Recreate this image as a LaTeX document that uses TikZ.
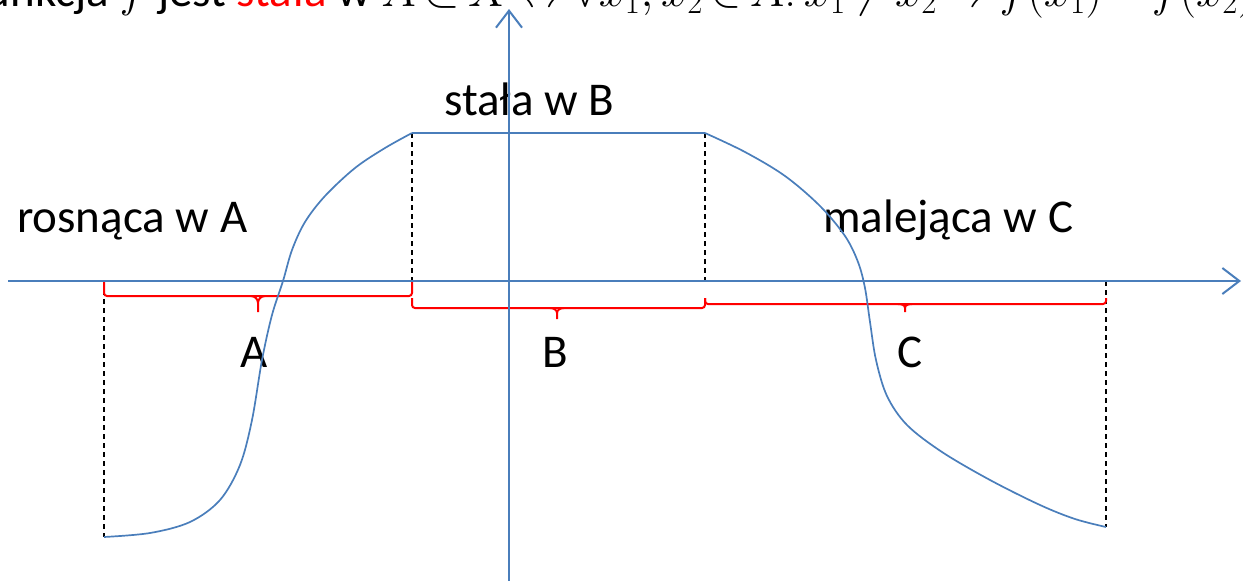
\RequirePackage{fix-cm}
\documentclass[tikz,border=0pt]{standalone}
\usepackage{fontspec}
\setmainfont{Carlito}
\usetikzlibrary{arrows.meta}
\definecolor{axisblue}{HTML}{4A7EBB}
\definecolor{bracered}{HTML}{FF0000}
\begin{document}
\begin{tikzpicture}[x=1pt,y=-1pt,
  axisline/.style={draw=axisblue,line width=2.4pt,-{Straight Barb[length=17pt,width=26pt,line width=2pt]}},
  curveline/.style={draw=axisblue,line width=1.7pt},
  guide/.style={draw=black,line width=1.4pt,dash pattern=on 5pt off 4pt},
  bracepath/.style={draw=bracered,line width=2pt,rounded corners=3pt},
  bracetick/.style={draw=bracered,line width=2pt},
  lbl/.style={font=\fontsize{47}{56}\selectfont,inner sep=0pt,text=black}]
\useasboundingbox (0,0) rectangle (1243,581);
\clip (0,0) rectangle (1243,581);
% key points
\coordinate (xs) at (8,281);
\coordinate (xe) at (1241,281);
\coordinate (ys) at (509,581);
\coordinate (ye) at (509,9);
\coordinate (p0) at (104,537);
\coordinate (p1) at (412,133);
\coordinate (p2) at (705,133);
\coordinate (p3) at (1106,527);
\coordinate (a0) at (104,281);
\coordinate (a1) at (412,281);
\coordinate (a2) at (705,281);
\coordinate (a3) at (1106,281);
% title (cut by the frame)
\node[lbl,anchor=base west] (title) at (-36,6) {\medmuskip=2mu\thickmuskip=3mu Funkcja $f$ jest \textcolor{bracered}{stała} w $A\subset X \Leftrightarrow \forall x_1,x_2\in A\colon x_1\neq x_2 \Rightarrow f(x_1)=f(x_2)$};
% labels
\node[lbl,anchor=base west] (rosn) at (17,232) {rosnąca w A};
\node[lbl,anchor=base west] (stal) at (444,115) {stała w B};
\node[lbl,anchor=base west] (mal) at (823,232) {malejąca w C};
\node[lbl,anchor=base] (lA) at (254,367) {A};
\node[lbl,anchor=base] (lB) at (555,367) {B};
\node[lbl,anchor=base] (lC) at (910,367) {C};
% guides
\draw[guide] (p1) -- (a1);
\draw[guide] (p2) -- (a2);
\draw[guide] (a0) -- (p0);
\draw[guide] (a3) -- (p3);
% braces
\draw[bracepath] (a0) -- (104,296) -- (412,296) -- (a1);
\draw[bracetick] (251,296) to[out=0,in=90] (258,303) -- (258,312);
\draw[bracetick] (265,296) to[out=180,in=90] (258,303);
\draw[bracepath] (412,298) -- (412,308) -- (705,308) -- (705,298);
\draw[bracetick] (550,308) to[out=0,in=90] (557,313) -- (557,319);
\draw[bracetick] (564,308) to[out=180,in=90] (557,313);
\draw[bracepath] (705,298) -- (705,304) -- (1106,304) -- (1106,298);
\draw[bracetick] (898,304) to[out=0,in=90] (905,308) -- (905,312);
\draw[bracetick] (912,304) to[out=180,in=90] (905,308);
% function graph
\draw[curveline] plot[smooth,tension=0.55] coordinates {(104,537) (150,533) (190,522) (220,500) (240,465) (252,420) (262,360) (272,315) (283,281) (292,250) (305,222) (325,196) (355,168) (385,148) (412,133)};
\draw[curveline] (p1) -- (p2);
\draw[curveline] plot[smooth,tension=0.55] coordinates {(705,133) (745,152) (785,176) (820,206) (845,236) (858,262) (865,288) (870,322) (876,360) (887,396) (907,425) (942,452) (990,480) (1040,505) (1075,519) (1106,527)};
% axes
\draw[axisline] (xs) -- (xe);
\draw[axisline] (ys) -- (ye);
\end{tikzpicture}
\end{document}
